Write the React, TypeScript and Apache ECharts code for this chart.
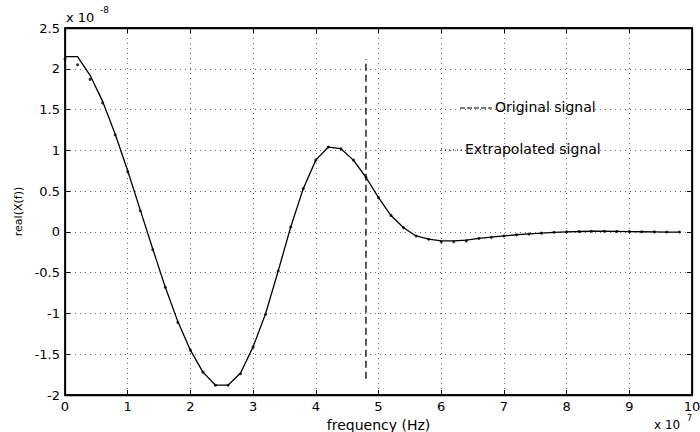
import React, { useEffect, useRef } from "react";
import * as echarts from "echarts";

// frequency in units of 1e7 Hz
const frequency = [
  0, 0.2, 0.4, 0.6, 0.8, 1.0, 1.2, 1.4, 1.6, 1.8,
  2.0, 2.2, 2.4, 2.6, 2.8, 3.0, 3.2, 3.4, 3.6, 3.8,
  4.0, 4.2, 4.4, 4.6, 4.8, 5.0, 5.2, 5.4, 5.6, 5.8,
  6.0, 6.2, 6.4, 6.6, 6.8, 7.0, 7.2, 7.4, 7.6, 7.8,
  8.0, 8.2, 8.4, 8.6, 8.8, 9.0, 9.2, 9.4, 9.6, 9.8,
];
// real(X(f)) in units of 1e-8
const originalSignal = [
  2.15, 2.15, 1.92, 1.6, 1.2, 0.75, 0.27, -0.21, -0.68, -1.1,
  -1.45, -1.72, -1.88, -1.88, -1.73, -1.41, -1.0, -0.48, 0.06, 0.53,
  0.88, 1.04, 1.02, 0.88, 0.67, 0.42, 0.2, 0.05, -0.05, -0.09,
  -0.11, -0.11, -0.1, -0.08, -0.065, -0.05, -0.035, -0.025, -0.015, -0.005,
  0.0, 0.005, 0.008, 0.008, 0.006, 0.004, 0.002, 0.0, -0.002, -0.002,
];
const extrapolatedSignal = [
  2.12, 2.05, 1.87, 1.58, 1.19, 0.74, 0.26, -0.22, -0.68, -1.11,
  -1.45, -1.72, -1.88, -1.88, -1.74, -1.41, -1.01, -0.48, 0.06, 0.53,
  0.88, 1.04, 1.02, 0.88, 0.67, 0.42, 0.2, 0.05, -0.05, -0.09,
  -0.12, -0.12, -0.11, -0.08, -0.065, -0.05, -0.035, -0.025, -0.015, -0.005,
  0.0, 0.005, 0.008, 0.008, 0.006, 0.004, 0.002, 0.0, -0.002, -0.002,
];
const boundaryX = [4.8, 4.8];
const boundaryY = [-1.8, 2.12];

const xTickLabels = ["0", "1", "2", "3", "4", "5", "6", "7", "8", "9", "10"];
const yTickLabels = ["-2", "-1.5", "-1", "-0.5", "0", "0.5", "1", "1.5", "2", "2.5"];

const FONT = "DejaVu Sans";

const gridLine = () => ({ show: true, lineStyle: { color: "#666", width: 1, type: [1, 4] as any } });
const frame = () => ({ show: true, onZero: false, lineStyle: { color: "#000", width: 1.3 } });
const tick = () => ({ show: true, inside: true, length: 5, lineStyle: { color: "#000", width: 1 } });

export default function App() {
  const ref = useRef<HTMLDivElement>(null);
  useEffect(() => {
    if (!ref.current) return;
    document.body.style.margin = "0";
    const chart = echarts.init(ref.current, undefined, { renderer: "svg" });
    chart.setOption({
      animation: false,
      backgroundColor: "#fff",
      grid: {
        left: 65,
        right: 8,
        top: 28,
        bottom: 37,
        outerBoundsMode: "none",
        containLabel: false,
        show: true,
        borderColor: "#000",
        borderWidth: 1.3,
      },
      xAxis: [
        {
          type: "value",
          min: 0,
          max: 10,
          interval: 1,
          name: "frequency (Hz)",
          nameLocation: "middle",
          nameGap: 19,
          nameTextStyle: { fontFamily: FONT, fontSize: 14, color: "#000" },
          axisLine: frame(),
          axisTick: tick(),
          splitLine: gridLine(),
          axisLabel: {
            margin: 5,
            fontFamily: FONT,
            fontSize: 13,
            color: "#000",
            formatter: (v: number) => xTickLabels[Math.round(v)] ?? "",
          },
        },
        {
          type: "value",
          position: "top",
          min: 0,
          max: 10,
          interval: 1,
          axisLine: frame(),
          axisTick: tick(),
          splitLine: { show: false },
          axisLabel: { show: false },
        },
      ],
      yAxis: [
        {
          type: "value",
          min: -2,
          max: 2.5,
          interval: 0.5,
          name: "real(X(f))",
          nameLocation: "middle",
          nameRotate: 90,
          nameGap: 40,
          nameTextStyle: { fontFamily: FONT, fontSize: 11, color: "#000" },
          axisLine: frame(),
          axisTick: tick(),
          splitLine: gridLine(),
          axisLabel: {
            margin: 5,
            fontFamily: FONT,
            fontSize: 13,
            color: "#000",
            formatter: (v: number) => yTickLabels[Math.round((v + 2) / 0.5)] ?? "",
          },
        },
        {
          type: "value",
          position: "right",
          min: -2,
          max: 2.5,
          interval: 0.5,
          axisLine: frame(),
          axisTick: tick(),
          splitLine: { show: false },
          axisLabel: { show: false },
        },
      ],
      series: [
        {
          name: "Original signal",
          type: "line",
          data: frequency.map((f, i) => [f, originalSignal[i]]),
          showSymbol: false,
          lineStyle: { color: "#000", width: 1.3 },
          z: 3,
        },
        {
          name: "Extrapolated signal",
          type: "scatter",
          data: frequency.map((f, i) => [f, extrapolatedSignal[i]]),
          symbol: "circle",
          symbolSize: 3,
          itemStyle: { color: "#000" },
          z: 4,
        },
        {
          name: "boundary",
          type: "line",
          data: boundaryX.map((x, i) => [x, boundaryY[i]]),
          showSymbol: false,
          lineStyle: { color: "#000", width: 1.3, type: [7, 4] as any },
          z: 2,
        },
      ],
    });

    // plot frame from the axes' own scale
    const p0 = chart.convertToPixel({ gridIndex: 0 }, [0, -2]) as number[];
    const p1 = chart.convertToPixel({ gridIndex: 0 }, [10, 2.5]) as number[];
    chart.setOption({
      graphic: [
        {
          type: "rect",
          z: 10,
          shape: { x: p0[0], y: p1[1], width: p1[0] - p0[0], height: p0[1] - p1[1] },
          style: { fill: "none", stroke: "#000", lineWidth: 1.3 },
          silent: true,
        },
        { type: "text", left: 66, top: 11, style: { text: "x 10", fontFamily: FONT, fontSize: 13, fill: "#000" } },
        { type: "text", left: 100, top: 5, style: { text: "-8", fontFamily: FONT, fontSize: 9, fill: "#000" } },
        { type: "text", left: 654, top: 419, style: { text: "x 10", fontFamily: FONT, fontSize: 12, fill: "#000" } },
        { type: "text", left: 687, top: 414, style: { text: "7", fontFamily: FONT, fontSize: 8, fill: "#000" } },
        {
          type: "line",
          shape: { x1: 460, y1: 108, x2: 492, y2: 108 },
          style: { stroke: "#000", lineWidth: 1.2, lineDash: [5, 2] },
        },
        { type: "text", left: 495, top: 100, style: { text: "Original signal", fontFamily: FONT, fontSize: 14, fill: "#000" } },
        {
          type: "line",
          shape: { x1: 441, y1: 150, x2: 463, y2: 150 },
          style: { stroke: "#000", lineWidth: 1.2, lineDash: [1, 3] },
        },
        { type: "text", left: 465, top: 142, style: { text: "Extrapolated signal", fontFamily: FONT, fontSize: 14, fill: "#000" } },
      ],
    });
    return () => chart.dispose();
  }, []);
  return (
    <div style={{ position: "fixed", left: 0, top: 0, width: 700, height: 432, background: "#fff" }}>
      <div ref={ref} style={{ width: 700, height: 432 }} />
    </div>
  );
}
